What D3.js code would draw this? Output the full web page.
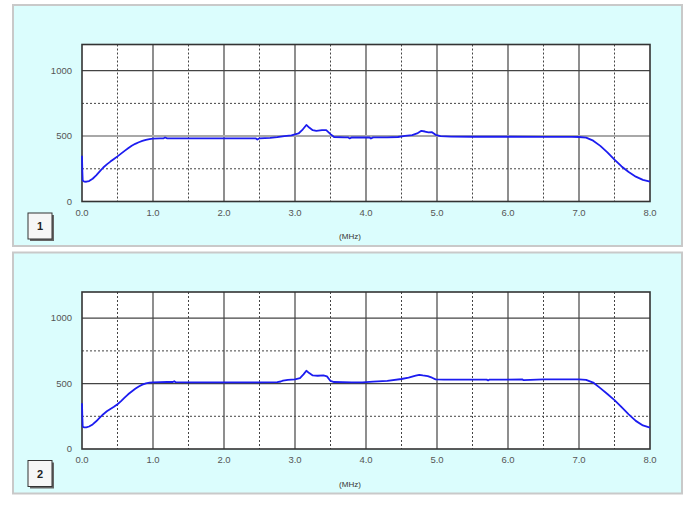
<!DOCTYPE html>
<html>
<meta charset="utf-8">
<style>
body { margin: 0; background: #fff; }
text { font-family: "Liberation Sans", Arial, sans-serif; }
</style>
<head>
<script src="https://d3js.org/d3.v7.min.js"></script>
</head>
<body>
<script>
// frequency (MHz) and level readings, one pair of arrays per trace
var freq1 = [0.0, 0.005, 0.01, 0.03, 0.06, 0.1, 0.15, 0.2, 0.25, 0.3, 0.35, 0.4, 0.45, 0.5, 0.55, 0.6, 0.65, 0.7, 0.75, 0.8, 0.85, 0.9, 0.95, 1.0,
  1.1, 1.15, 1.17, 1.2, 1.3, 1.5, 1.7, 2.0, 2.3, 2.45, 2.47, 2.5, 2.65, 2.75, 2.85, 2.95, 3.05, 3.1, 3.16, 3.2, 3.25, 3.3, 3.38, 3.44, 3.5, 3.55,
  3.7, 3.75, 3.77, 3.8, 4.0, 4.05, 4.07, 4.1, 4.3, 4.45, 4.55, 4.65, 4.72, 4.78, 4.83, 4.88, 4.93, 4.98, 5.05, 5.2, 5.5, 6.0, 6.5, 6.9, 7.0,
  7.1, 7.2, 7.3, 7.4, 7.5, 7.6, 7.7, 7.8, 7.9, 8.0];
var level1 = [350, 230, 160, 152, 151, 156, 174, 200, 230, 260, 284, 305, 325, 345, 366, 387, 407, 426, 441, 453, 463, 471, 477, 481,
  483, 483, 489, 483, 483, 482, 483, 482, 483, 482, 474, 483, 486, 492, 500, 505, 520, 545, 585, 565, 545, 540, 545, 545, 515, 493,
  490, 490, 482, 490, 489, 489, 481, 490, 490, 493, 502, 508, 520, 540, 535, 528, 530, 510, 500, 496, 495, 495, 494, 494, 493,
  488, 465, 425, 375, 320, 268, 225, 190, 165, 152];

var freq2 = [0.0, 0.005, 0.01, 0.03, 0.06, 0.1, 0.15, 0.2, 0.25, 0.3, 0.35, 0.4, 0.45, 0.5, 0.55, 0.6, 0.65, 0.7, 0.75, 0.8, 0.85, 0.9, 0.95, 1.0,
  1.2, 1.28, 1.3, 1.32, 1.5, 2.0, 2.5, 2.75, 2.8, 2.83, 2.9, 3.0, 3.07, 3.12, 3.16, 3.2, 3.25, 3.32, 3.4, 3.45, 3.5, 3.55,
  3.8, 3.95, 4.1, 4.3, 4.5, 4.6, 4.7, 4.75, 4.8, 4.87, 4.93, 4.98, 5.1, 5.5, 5.7, 5.72, 5.74, 6.0, 6.2, 6.22, 6.5, 7.0,
  7.1, 7.2, 7.3, 7.4, 7.5, 7.6, 7.7, 7.8, 7.9, 8.0];
var level2 = [350, 240, 170, 166, 166, 172, 188, 212, 240, 266, 288, 306, 323, 342, 366, 392, 418, 440, 460, 478, 492, 502, 507, 510,
  512, 512, 518, 511, 510, 509, 510, 511, 516, 522, 528, 532, 542, 570, 598, 580, 562, 560, 562, 555, 520, 512,
  510, 510, 515, 521, 535, 545, 560, 567, 562, 557, 545, 532, 530, 530, 530, 524, 531, 531, 532, 526, 532, 532,
  528, 508, 465, 420, 374, 320, 265, 215, 180, 163];

var panelLabels = ["1", "2"];
var xTicks = [0, 1, 2, 3, 4, 5, 6, 7, 8];
var yTicks = [0, 500, 1000];
var yMinor = [250, 750];

var W = 694, H = 505;
var svg = d3.select("body").append("svg")
    .attr("width", W)
    .attr("height", H);

var x = d3.scaleLinear().domain([0, 8]).range([82, 650]);
var y = d3.scaleLinear().domain([0, 1200]).range([201.5, 44.5]);

var traces = [
  {freq: freq1, level: level1},
  {freq: freq2, level: level2}
];

traces.forEach(function(t, i) {
  var g = svg.append("g")
      .attr("transform", "translate(0," + (i * 247.5) + ")");

  // cyan panel
  g.append("rect")
      .attr("x", 13).attr("y", 5)
      .attr("width", 669).attr("height", 241)
      .attr("fill", "#dbfdfd")
      .attr("stroke", "#c9c9c9")
      .attr("stroke-width", 2);

  // plot area
  g.append("rect")
      .attr("x", x(0)).attr("y", y(1200))
      .attr("width", x(8) - x(0)).attr("height", y(0) - y(1200))
      .attr("fill", "#fff");

  // dotted grid every 0.5 MHz / 250
  g.selectAll(".vminor")
      .data(d3.range(0.5, 8, 1))
    .enter().append("line")
      .attr("x1", function(d) { return x(d); }).attr("x2", function(d) { return x(d); })
      .attr("y1", y(1200)).attr("y2", y(0))
      .attr("stroke", "#444").attr("stroke-dasharray", "2,2");

  g.selectAll(".hminor")
      .data(yMinor)
    .enter().append("line")
      .attr("x1", x(0)).attr("x2", x(8))
      .attr("y1", function(d) { return y(d); }).attr("y2", function(d) { return y(d); })
      .attr("stroke", "#444").attr("stroke-dasharray", "2,2");

  // solid grid
  g.selectAll(".vmajor")
      .data(xTicks.slice(1, -1))
    .enter().append("line")
      .attr("x1", function(d) { return x(d); }).attr("x2", function(d) { return x(d); })
      .attr("y1", y(1200)).attr("y2", y(0))
      .attr("stroke", "#444").attr("stroke-width", 1.2);

  g.selectAll(".hmajor")
      .data(yTicks.slice(1))
    .enter().append("line")
      .attr("x1", x(0)).attr("x2", x(8))
      .attr("y1", function(d) { return y(d); }).attr("y2", function(d) { return y(d); })
      .attr("stroke", function(d) { return (i == 0 && d == 500) ? "#a8a8a8" : "#444"; })
      .attr("stroke-width", function(d) { return (i == 0 && d == 500) ? 2 : 1.2; });

  // frame
  g.append("rect")
      .attr("x", x(0)).attr("y", y(1200))
      .attr("width", x(8) - x(0)).attr("height", y(0) - y(1200))
      .attr("fill", "none")
      .attr("stroke", "#333")
      .attr("stroke-width", 1.6);

  // trace
  var pts = t.freq.map(function(f, k) { return [f, t.level[k]]; });
  var line = d3.line()
      .x(function(d) { return x(d[0]); })
      .y(function(d) { return y(d[1]); });

  g.append("path")
      .datum(pts)
      .attr("d", line)
      .attr("fill", "none")
      .attr("stroke", "#1c1cf0")
      .attr("stroke-width", 1.8)
      .attr("stroke-linejoin", "round");

  // tick labels
  g.selectAll(".xlab")
      .data(xTicks)
    .enter().append("text")
      .attr("x", function(d) { return x(d); })
      .attr("y", y(0) + 14)
      .attr("text-anchor", "middle")
      .attr("font-size", 9.5)
      .attr("fill", "#555")
      .text(function(d) { return d3.format(".1f")(d); });

  g.selectAll(".ylab")
      .data(yTicks)
    .enter().append("text")
      .attr("x", 72)
      .attr("y", function(d) { return y(d) + 3; })
      .attr("text-anchor", "end")
      .attr("font-size", 9.5)
      .attr("fill", "#555")
      .text(function(d) { return d; });

  g.append("text")
      .attr("x", 350).attr("y", 239)
      .attr("text-anchor", "middle")
      .attr("font-size", 8)
      .attr("fill", "#333")
      .text("(MHz)");

  // numbered box
  g.append("rect")
      .attr("x", 30).attr("y", 215)
      .attr("width", 24).attr("height", 26)
      .attr("fill", "#666");
  g.append("rect")
      .attr("x", 28).attr("y", 213)
      .attr("width", 24).attr("height", 26)
      .attr("fill", "#f6f6f6")
      .attr("stroke", "#333")
      .attr("stroke-width", 1);
  g.append("text")
      .attr("x", 40).attr("y", 230)
      .attr("text-anchor", "middle")
      .attr("font-size", 11)
      .attr("font-weight", "bold")
      .attr("fill", "#222")
      .text(panelLabels[i]);
});
</script>
</body>
</html>
